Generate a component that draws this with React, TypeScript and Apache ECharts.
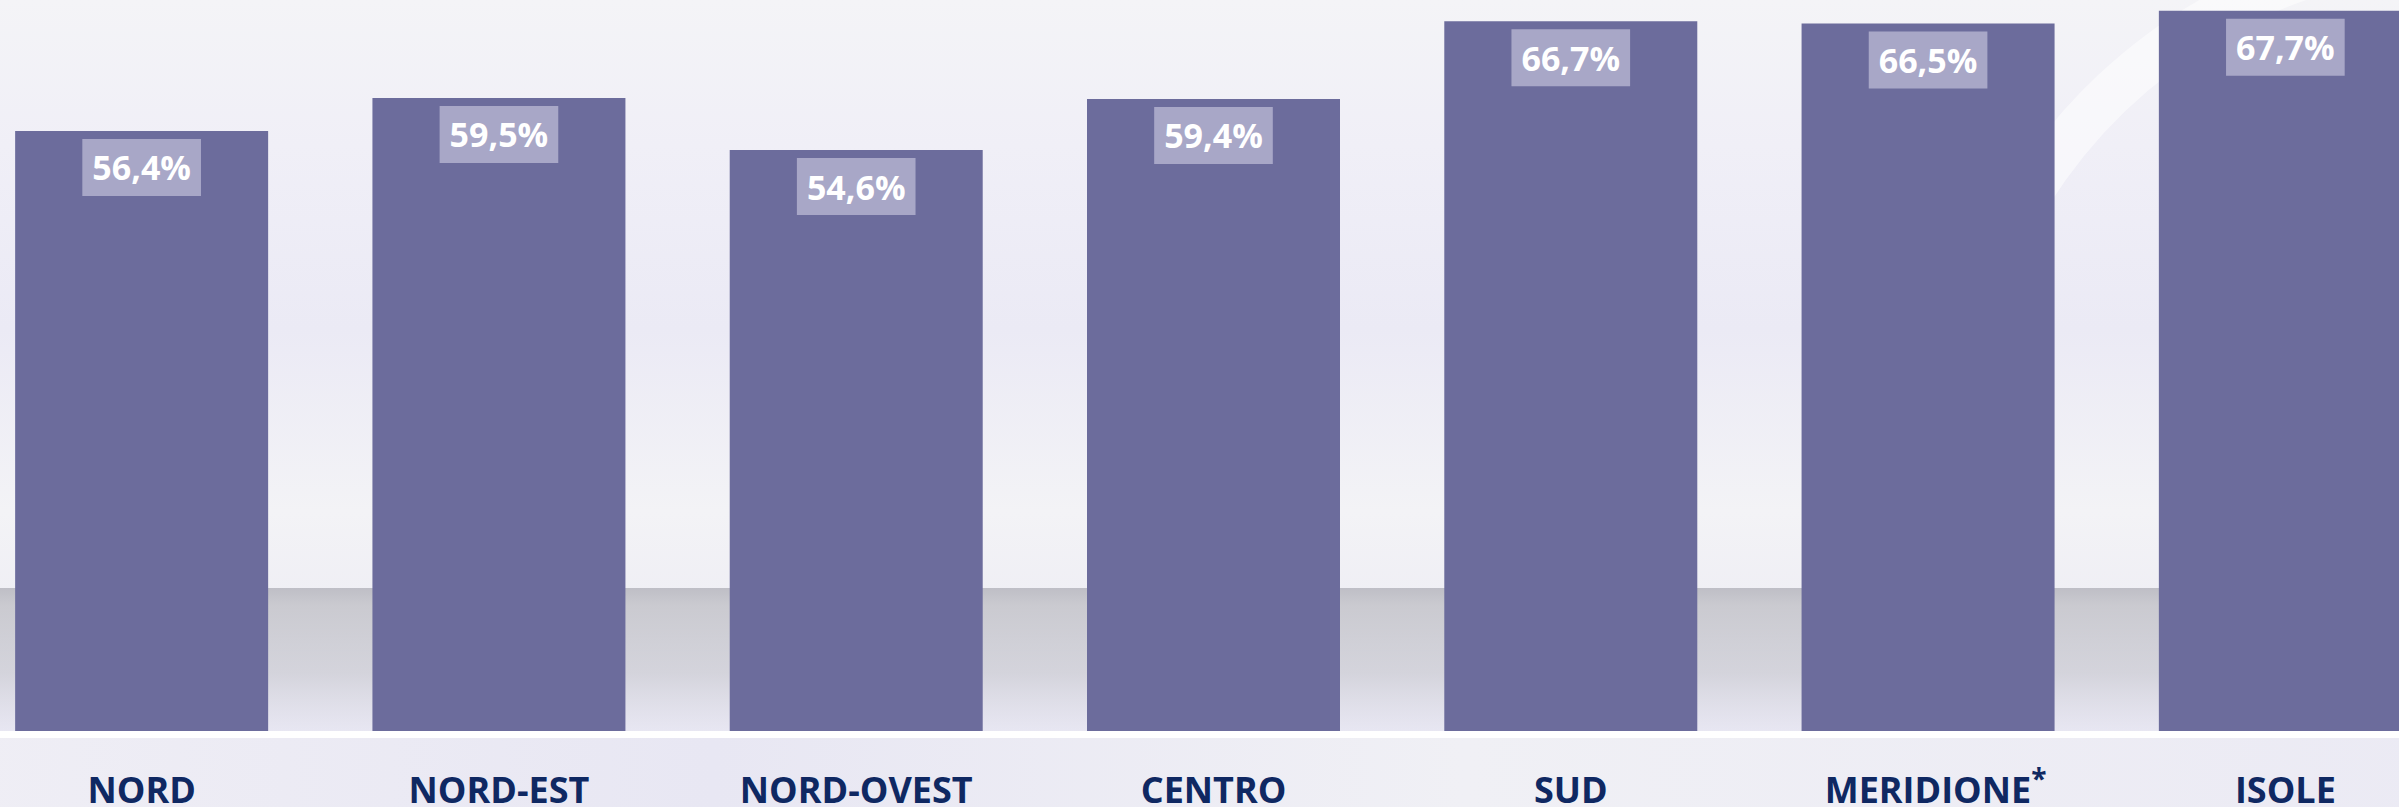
import React, { useEffect, useRef } from "react";
import * as echarts from "echarts";

const categories = ["NORD", "NORD-EST", "NORD-OVEST", "CENTRO", "SUD", "MERIDIONE", "ISOLE"];
const values = [56.4, 59.5, 54.6, 59.4, 66.7, 66.5, 67.7];
const footnoted = ["MERIDIONE"];

const W = 2399;
const H = 807;
const OFFSET = 37; // chart canvas starts 37px left of the page
const CW = 2501; // chart canvas width (extends past the right edge)
const BASE_Y = 731;
const FONT = "'Open Sans', 'Noto Sans', sans-serif";

export default function App() {
  const ref = useRef<HTMLDivElement>(null);

  useEffect(() => {
    if (!ref.current) return;
    const chart = echarts.init(ref.current, null, { renderer: "svg" });

    const option: any = {
      animation: false,
      backgroundColor: "#f2f1f6",
      grid: {
        left: 0,
        right: 0,
        top: 0,
        bottom: H - BASE_Y,
        containLabel: false,
        outerBoundsMode: "none",
      },
      graphic: [
        {
          type: "rect",
          z: -20,
          silent: true,
          shape: { x: 0, y: 0, width: CW, height: BASE_Y },
          style: {
            fill: new echarts.graphic.LinearGradient(0, 0, 0, 1, [
              { offset: 0, color: "#f4f4f7" },
              { offset: 0.2, color: "#f0eff7" },
              { offset: 0.45, color: "#ebeaf5" },
              { offset: 0.7, color: "#f3f3f6" },
              { offset: 1, color: "#e9e8f2" },
            ]),
          },
        },
        {
          type: "rect",
          z: -19,
          silent: true,
          shape: { x: 0, y: 588, width: CW, height: BASE_Y - 588 },
          style: {
            fill: new echarts.graphic.LinearGradient(0, 0, 0, 1, [
              { offset: 0, color: "rgba(178,178,186,0.8)" },
              { offset: 0.12, color: "rgba(192,192,198,0.78)" },
              { offset: 0.6, color: "rgba(202,202,210,0.7)" },
              { offset: 1, color: "rgba(230,229,242,0.55)" },
            ]),
          },
        },
        {
          type: "circle",
          z: -18,
          silent: true,
          shape: { cx: 2470 + OFFSET, cy: 470, r: 520 },
          style: { fill: "none", stroke: "rgba(255,255,255,0.5)", lineWidth: 45 },
        },
        {
          type: "rect",
          z: -18,
          silent: true,
          shape: { x: 0, y: BASE_Y + 7, width: CW, height: H - BASE_Y - 7 },
          style: {
            fill: new echarts.graphic.LinearGradient(0, 0, 1, 0, [
              { offset: 0, color: "#efeef5" },
              { offset: 0.3, color: "#e8e7f3" },
              { offset: 0.6, color: "#f0f0f5" },
              { offset: 1, color: "#ebeaf4" },
            ]),
          },
        },
        {
          type: "rect",
          z: 10,
          silent: true,
          shape: { x: 0, y: BASE_Y, width: CW, height: 7 },
          style: { fill: "#ffffff" },
        },
      ],
      xAxis: {
        type: "category",
        data: categories,
        axisLine: { show: false },
        axisTick: { show: false },
        splitLine: { show: false },
        axisLabel: {
          interval: 0,
          margin: 43,
          formatter: (v: string) =>
            footnoted.includes(v) ? `{m|${v}}{sup|*}` : `{a|${v}}`,
          rich: {
            a: { fontSize: 36, fontWeight: "bold", color: "#0f2862", fontFamily: FONT, lineHeight: 30 },
            m: {
              fontSize: 36,
              fontWeight: "bold",
              color: "#0f2862",
              fontFamily: FONT,
              lineHeight: 30,
              padding: [0, 0, 0, 15],
            },
            sup: {
              fontSize: 28,
              fontWeight: "bold",
              color: "#0f2862",
              fontFamily: FONT,
              lineHeight: 20,
              padding: [0, 0, 22, 0],
            },
          },
        },
      },
      yAxis: {
        type: "value",
        min: 0,
        max: 68.7,
        show: false,
        splitLine: { show: false },
      },
      series: [
        {
          type: "bar",
          data: values,
          barWidth: 253,
          itemStyle: { color: "#6c6c9c" },
          label: {
            show: true,
            position: "insideTop",
            distance: 8,
            formatter: (p: any) => p.value.toFixed(1).replace(".", ",") + "%",
            fontFamily: FONT,
            fontWeight: "bold",
            fontSize: 34,
            color: "#ffffff",
            backgroundColor: "#a8a7c7",
            padding: [6, 10],
            lineHeight: 45,
          },
        },
      ],
    };

    chart.setOption(option);
    return () => chart.dispose();
  }, []);

  return (
    <div style={{ position: "fixed", left: 0, top: 0, width: W, height: H, overflow: "hidden" }}>
      <div ref={ref} style={{ position: "absolute", left: -OFFSET, top: 0, width: CW, height: H }} />
    </div>
  );
}
